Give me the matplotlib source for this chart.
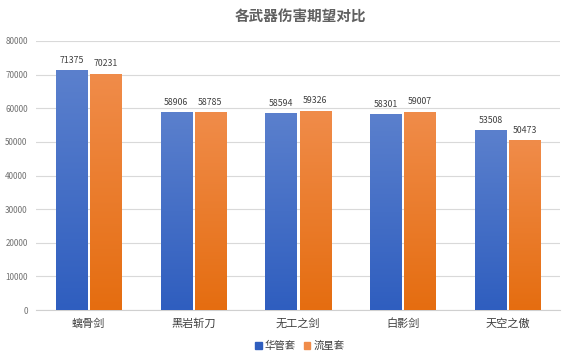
import matplotlib
matplotlib.use("Agg")
import matplotlib.pyplot as plt
import numpy as np
from matplotlib.colors import LinearSegmentedColormap

plt.rcParams["font.family"] = ["Noto Sans CJK SC", "DejaVu Sans"]

categories = ["螭骨剑", "黑岩斩刀", "无工之剑", "白影剑", "天空之傲"]
series_names = ["华管套", "流星套"]
set_a = [71375, 58906, 58594, 58301, 53508]
set_b = [70231, 58785, 59326, 59007, 50473]
yticks = [0, 10000, 20000, 30000, 40000, 50000, 60000, 70000, 80000]

# (top, bottom) colours of the bar gradients
colors = [("#5b80cd", "#2f5ebf"), ("#f08c4a", "#e56d10")]

fig = plt.figure(figsize=(5.66, 3.53), dpi=100)
ax = fig.add_axes([36 / 566, 1 - 310 / 353, 524 / 566, 269 / 353])

x = np.arange(len(categories))
width = 0.296
offset = 0.163


def gradient_bars(xs, vals, top_bottom):
    cmap = LinearSegmentedColormap.from_list("g", [top_bottom[1], top_bottom[0]])
    bars = ax.bar(xs, vals, width, color=top_bottom[1], zorder=2)
    grad = np.linspace(0, 1, 256).reshape(-1, 1)
    for b in bars:
        x0, w, h = b.get_x(), b.get_width(), b.get_height()
        im = ax.imshow(grad, cmap=cmap, aspect="auto", origin="lower",
                       extent=[x0, x0 + w, 0, h], zorder=3)
        im.set_clip_path(b)
    return bars


gradient_bars(x - offset, set_a, colors[0])
gradient_bars(x + offset, set_b, colors[1])

for xs, vals in [(x - offset, set_a), (x + offset, set_b)]:
    for xi, v in zip(xs, vals):
        ax.text(xi, v + 1600, str(v), ha="center", va="bottom",
                fontsize=6.3, color="#404040")

ax.set_xlim(-0.5, len(categories) - 0.5)
ax.set_ylim(0, 80000)
ax.set_yticks(yticks)
ax.set_yticklabels([str(t) for t in yticks], fontsize=5.8, color="#707070")
ax.set_xticks(x)
ax.set_xticklabels(categories, fontsize=8, color="#404040")
ax.tick_params(axis="both", length=0, pad=6)
ax.grid(axis="y", color="#d9d9d9", linewidth=0.8, zorder=0)
for s in ["left", "right", "top"]:
    ax.spines[s].set_visible(False)
ax.spines["bottom"].set_color("#d0d0d0")

fig.text(0.53, 1 - 17 / 353, "各武器伤害期望对比", ha="center", va="center",
         fontsize=10.5, fontweight="bold", color="#606060")

handles = [plt.Rectangle((0, 0), 1, 1, color=colors[0][1]),
           plt.Rectangle((0, 0), 1, 1, color=colors[1][0])]
fig.legend(handles, series_names, loc="center", bbox_to_anchor=(0.53, 1 - 346 / 353),
           ncol=2, frameon=False, fontsize=7.5, handlelength=0.6, handleheight=0.6,
           handletextpad=0.3, columnspacing=0.8, labelcolor="#404040")

fig.savefig("out.png", dpi=100)
